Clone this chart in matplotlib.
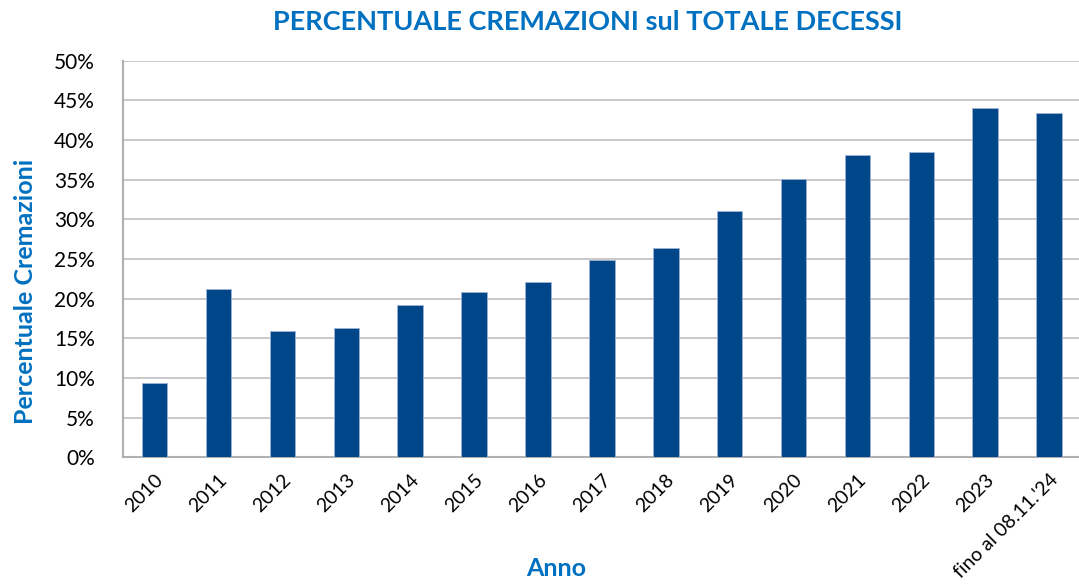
import matplotlib.pyplot as plt
from matplotlib.ticker import PercentFormatter

# values
anni = ["2010", "2011", "2012", "2013", "2014", "2015", "2016", "2017",
        "2018", "2019", "2020", "2021", "2022", "2023", "fino al 08.11.'24"]
percentuale = [9.4, 21.2, 15.9, 16.3, 19.2, 20.8, 22.1, 24.9,
               26.4, 31.1, 35.1, 38.1, 38.5, 44.0, 43.4]

blu_barre = "#02468A"
blu_testo = "#0070C0"

plt.rcParams['font.family'] = ['Lato', 'DejaVu Sans']

fig = plt.figure(figsize=(10.79, 5.88), dpi=100)
ax = fig.add_axes([122.7 / 1079, 1 - 457.3 / 588, (1081 - 122.7) / 1079, (457.3 - 60.7) / 588])

x = range(len(anni))
ax.bar(x, percentuale, width=0.4, color=blu_barre, edgecolor="#9DB5D6", linewidth=0.6, zorder=3)

ax.set_xlim(-0.5, len(anni) - 0.5)
ax.set_ylim(0, 50)
ax.set_yticks(range(0, 51, 5))
ax.yaxis.set_major_formatter(PercentFormatter(decimals=0))
ax.set_xticks(list(x))
ax.set_xticklabels(anni, rotation=45, ha="right", rotation_mode="anchor", fontsize=14)
ax.tick_params(axis="y", labelsize=15, length=0, pad=20)
ax.tick_params(axis="x", length=0, pad=10)
ax.grid(axis="y", color="#C0C0C0", linewidth=1.2, zorder=0)

for s in ["top", "right"]:
    ax.spines[s].set_visible(False)
for s in ["left", "bottom"]:
    ax.spines[s].set_color("#B0B0B0")
    ax.spines[s].set_linewidth(1.5)

fig.text(0.545, 0.962, "PERCENTUALE CREMAZIONI sul TOTALE DECESSI", ha="center", va="center",
         fontsize=19.5, fontweight="bold", color=blu_testo)
fig.text(0.024, 0.505, "Percentuale Cremazioni", ha="center", va="center", rotation=90,
         fontsize=18, fontweight="bold", color=blu_testo)
fig.text(0.515, 0.034, "Anno", ha="center", va="center",
         fontsize=18, fontweight="bold", color=blu_testo)

fig.savefig("out.png", dpi=100)
